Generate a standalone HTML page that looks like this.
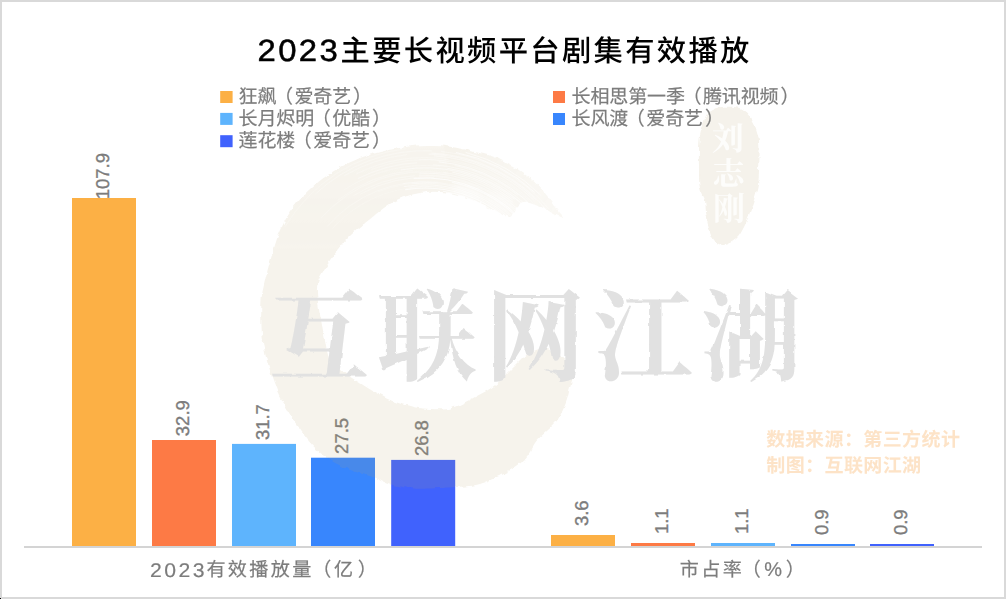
<!DOCTYPE html>
<html lang="zh-CN">
<head>
<meta charset="utf-8">
<title>2023主要长视频平台剧集有效播放</title>
<style>
html,body{margin:0;padding:0;background:#fff;}
body{width:1007px;height:599px;overflow:hidden;font-family:"Liberation Sans","Noto Sans CJK SC",sans-serif;}
svg{display:block;position:absolute;left:0;top:0;}
text{font-family:"Liberation Sans","Noto Sans CJK SC",sans-serif;text-rendering:geometricPrecision;}
.title{font-size:29.3px;font-weight:500;fill:#000;letter-spacing:2.33px;}
.title .d{font-size:30.7px;letter-spacing:2.18px;stroke:#000;stroke-width:0.5px;}
.leg{font-size:19px;fill:#7c7c7c;letter-spacing:-0.12px;stroke:#7c7c7c;stroke-width:0.2px;}
.val{font-size:18.5px;fill:#7c7c7c;letter-spacing:0px;stroke:#7c7c7c;stroke-width:0.35px;}
.axis{font-size:19.1px;fill:#7c7c7c;letter-spacing:2.35px;stroke:#7c7c7c;stroke-width:0.2px;}
.axis .ad{font-size:19.8px;letter-spacing:2.3px;}
.axis .pc{font-size:20px;letter-spacing:0;}
.src{font-size:19px;font-weight:700;fill:#FDE3C7;letter-spacing:0.4px;}
.seal{font-family:"Liberation Serif","Noto Serif CJK SC",serif;font-size:32px;font-weight:700;fill:#ffffff;}
.wm{font-family:"Liberation Serif","Noto Serif CJK SC",serif;font-size:100px;font-weight:700;fill:#e1e1e1;letter-spacing:8px;}
</style>
</head>
<body>
<svg width="1007" height="599" viewBox="0 0 1007 599">
<rect x="0" y="0" width="1007" height="599" fill="#ffffff"/>
<!-- bars -->
<rect x="72.0" y="198.0" width="64" height="348.0" fill="#FCB045"/>
<rect x="152.0" y="440.0" width="64" height="106.0" fill="#FD7A45"/>
<rect x="232.0" y="443.9" width="64" height="102.1" fill="#5EB4FD"/>
<rect x="311.0" y="457.7" width="64" height="88.3" fill="#3886FD"/>
<rect x="391.2" y="459.9" width="64" height="86.1" fill="#4062FD"/>
<rect x="551.0" y="535.0" width="64" height="11.0" fill="#FCB045"/>
<rect x="631.0" y="543.0" width="64" height="3.0" fill="#FD7A45"/>
<rect x="711.0" y="543.0" width="64" height="3.0" fill="#5EB4FD"/>
<rect x="791.0" y="544.0" width="64" height="2.0" fill="#3886FD"/>
<rect x="870.0" y="544.0" width="64" height="2.0" fill="#4062FD"/>
<!-- value labels -->
<text transform="translate(109.0 176.2) rotate(-90)" text-anchor="middle" class="val">107.9</text>
<text transform="translate(189.0 418.2) rotate(-90)" text-anchor="middle" class="val">32.9</text>
<text transform="translate(269.0 422.1) rotate(-90)" text-anchor="middle" class="val">31.7</text>
<text transform="translate(348.0 435.9) rotate(-90)" text-anchor="middle" class="val">27.5</text>
<text transform="translate(428.2 438.1) rotate(-90)" text-anchor="middle" class="val">26.8</text>
<text transform="translate(588.0 513.2) rotate(-90)" text-anchor="middle" class="val">3.6</text>
<text transform="translate(668.0 521.2) rotate(-90)" text-anchor="middle" class="val">1.1</text>
<text transform="translate(748.0 521.2) rotate(-90)" text-anchor="middle" class="val">1.1</text>
<text transform="translate(828.0 522.2) rotate(-90)" text-anchor="middle" class="val">0.9</text>
<text transform="translate(907.0 522.2) rotate(-90)" text-anchor="middle" class="val">0.9</text>
<!-- watermark -->
<defs>
<filter id="rough" x="-5%" y="-5%" width="110%" height="110%">
<feTurbulence type="fractalNoise" baseFrequency="0.14" numOctaves="3" seed="3" result="n"/>
<feDisplacementMap in="SourceGraphic" in2="n" scale="4.5" xChannelSelector="R" yChannelSelector="G"/>
</filter>
<filter id="rough2" x="-5%" y="-5%" width="110%" height="110%">
<feTurbulence type="fractalNoise" baseFrequency="0.11" numOctaves="2" seed="7" result="n"/>
<feDisplacementMap in="SourceGraphic" in2="n" scale="2.6" xChannelSelector="R" yChannelSelector="G"/>
</filter>
<filter id="blur3"><feGaussianBlur stdDeviation="3"/></filter>
</defs>
<linearGradient id="tailfade" gradientUnits="userSpaceOnUse" x1="455" y1="150" x2="560" y2="215">
<stop offset="0" stop-color="#fff"/><stop offset="0.45" stop-color="#bbb"/><stop offset="1" stop-color="#888"/>
</linearGradient>
<linearGradient id="topfade" gradientUnits="userSpaceOnUse" x1="0" y1="140" x2="0" y2="270">
<stop offset="0" stop-color="#d8d8d8"/><stop offset="1" stop-color="#fff"/>
</linearGradient>
<mask id="ensomask" maskUnits="userSpaceOnUse" x="240" y="120" width="360" height="400">
<rect x="240" y="120" width="360" height="400" fill="url(#topfade)"/>
<path d="M440 120 L600 120 L600 260 L520 240 L455 215 Z" fill="url(#tailfade)"/>
<path d="M443.0 191.2 A121.09832135591176 121.09832135591176 0 0 1 518.7 234.3" stroke="#000" stroke-opacity="0.68" stroke-width="1.07" fill="none"/>
<path d="M405.2 189.6 A123.03785999733233 123.03785999733233 0 0 1 512.7 224.7" stroke="#000" stroke-opacity="0.64" stroke-width="1.07" fill="none"/>
<path d="M409.4 187.3 A124.7207203934005 124.7207203934005 0 0 1 514.0 223.6" stroke="#000" stroke-opacity="0.59" stroke-width="0.65" fill="none"/>
<path d="M403.8 186.6 A126.15915295034247 126.15915295034247 0 0 1 508.5 216.5" stroke="#000" stroke-opacity="0.76" stroke-width="0.67" fill="none"/>
<path d="M411.6 183.7 A128.01258036130332 128.01258036130332 0 0 1 524.1 230.0" stroke="#000" stroke-opacity="0.63" stroke-width="0.58" fill="none"/>
<path d="M402.7 183.7 A129.20135938604022 129.20135938604022 0 0 1 526.7 231.4" stroke="#000" stroke-opacity="0.45" stroke-width="0.63" fill="none"/>
<path d="M451.9 182.2 A131.58593688706074 131.58593688706074 0 0 1 514.1 214.2" stroke="#000" stroke-opacity="0.59" stroke-width="1.08" fill="none"/>
<path d="M413.7 178.4 A133.0422643818005 133.0422643818005 0 0 1 531.3 231.0" stroke="#000" stroke-opacity="0.78" stroke-width="0.91" fill="none"/>
<path d="M419.0 176.2 A134.91499334206117 134.91499334206117 0 0 1 518.3 213.6" stroke="#000" stroke-opacity="0.42" stroke-width="0.60" fill="none"/>
<path d="M419.2 175.2 A135.95211177070055 135.95211177070055 0 0 1 525.5 219.4" stroke="#000" stroke-opacity="0.66" stroke-width="0.50" fill="none"/>
<path d="M419.6 173.2 A137.8703174893023 137.8703174893023 0 0 1 532.3 224.4" stroke="#000" stroke-opacity="0.49" stroke-width="0.79" fill="none"/>
<path d="M443.5 172.5 A139.68497470898947 139.68497470898947 0 0 1 512.7 202.3" stroke="#000" stroke-opacity="0.36" stroke-width="1.09" fill="none"/>
<path d="M452.3 172.1 A141.599836017833 141.599836017833 0 0 1 512.7 199.9" stroke="#000" stroke-opacity="0.51" stroke-width="0.97" fill="none"/>
<path d="M400.7 169.9 A143.1628150632455 143.1628150632455 0 0 1 514.6 199.3" stroke="#000" stroke-opacity="0.78" stroke-width="0.61" fill="none"/>
<path d="M447.3 168.2 A144.55721733641042 144.55721733641042 0 0 1 540.3 223.8" stroke="#000" stroke-opacity="0.50" stroke-width="1.07" fill="none"/>
<path d="M433.0 164.8 A146.38383456404634 146.38383456404634 0 0 1 537.8 217.7" stroke="#000" stroke-opacity="0.69" stroke-width="0.56" fill="none"/>
<path d="M454.6 165.5 A148.43778134207307 148.43778134207307 0 0 1 517.6 195.0" stroke="#000" stroke-opacity="0.39" stroke-width="1.07" fill="none"/>
<path d="M438.8 161.9 A149.77259242840339 149.77259242840339 0 0 1 544.1 220.2" stroke="#000" stroke-opacity="0.77" stroke-width="0.70" fill="none"/>
<path d="M419.2 159.5 A151.63611522967858 151.63611522967858 0 0 1 528.5 200.2" stroke="#000" stroke-opacity="0.39" stroke-width="0.61" fill="none"/>
<path d="M444.3 159.2 A153.0190944356986 153.0190944356986 0 0 1 548.7 220.9" stroke="#000" stroke-opacity="0.37" stroke-width="0.60" fill="none"/>
<path d="M434.0 155.9 A155.38935928702742 155.38935928702742 0 0 1 533.9 200.2" stroke="#000" stroke-opacity="0.62" stroke-width="0.64" fill="none"/>
<path d="M428.8 154.1 A156.9610364094389 156.9610364094389 0 0 1 535.5 199.5" stroke="#000" stroke-opacity="0.76" stroke-width="0.53" fill="none"/>
<path d="M431.4 153.1 A158.02617697597543 158.02617697597543 0 0 1 548.5 212.4" stroke="#000" stroke-opacity="0.68" stroke-width="0.58" fill="none"/>
<path d="M441.1 151.4 A160.45983885009753 160.45983885009753 0 0 1 549.0 209.2" stroke="#000" stroke-opacity="0.55" stroke-width="0.56" fill="none"/>
<path d="M456.1 152.5 A161.5193962756322 161.5193962756322 0 0 1 534.6 192.3" stroke="#000" stroke-opacity="0.80" stroke-width="0.77" fill="none"/>
<path d="M465.7 152.4 A163.781802136715 163.781802136715 0 0 1 541.3 195.7" stroke="#000" stroke-opacity="0.68" stroke-width="0.79" fill="none"/>
<path d="M332.4 228.6 A123.9580849002903 123.9580849002903 0 0 1 420.8 187.1" stroke="#000" stroke-opacity="0.31" stroke-width="0.46" fill="none"/>
<path d="M377.9 192.0 A127.9767754008137 127.9767754008137 0 0 1 430.7 183.1" stroke="#000" stroke-opacity="0.30" stroke-width="0.60" fill="none"/>
<path d="M327.3 226.4 A129.17827483254464 129.17827483254464 0 0 1 437.7 182.4" stroke="#000" stroke-opacity="0.31" stroke-width="0.75" fill="none"/>
<path d="M360.2 194.2 A133.57204515926767 133.57204515926767 0 0 1 434.1 177.7" stroke="#000" stroke-opacity="0.43" stroke-width="0.67" fill="none"/>
<path d="M353.4 195.7 A135.72686352669172 135.72686352669172 0 0 1 414.6 175.7" stroke="#000" stroke-opacity="0.43" stroke-width="0.59" fill="none"/>
<path d="M321.0 218.2 A139.3817659127114 139.3817659127114 0 0 1 446.6 173.3" stroke="#000" stroke-opacity="0.37" stroke-width="0.66" fill="none"/>
<path d="M337.9 200.1 A141.02316131404496 141.02316131404496 0 0 1 412.7 170.5" stroke="#000" stroke-opacity="0.34" stroke-width="0.67" fill="none"/>
<path d="M343.3 190.4 A145.6333593353681 145.6333593353681 0 0 1 440.1 166.2" stroke="#000" stroke-opacity="0.39" stroke-width="0.54" fill="none"/>
<path d="M357.9 178.6 A148.47565470542781 148.47565470542781 0 0 1 417.2 162.7" stroke="#000" stroke-opacity="0.46" stroke-width="0.74" fill="none"/>
<path d="M370.9 169.6 A151.37667391374384 151.37667391374384 0 0 1 449.0 161.5" stroke="#000" stroke-opacity="0.36" stroke-width="0.61" fill="none"/>
<path d="M356.5 173.8 A153.33234523532767 153.33234523532767 0 0 1 448.3 159.5" stroke="#000" stroke-opacity="0.41" stroke-width="0.59" fill="none"/>
<path d="M344.4 175.7 A157.43937295184818 157.43937295184818 0 0 1 407.0 154.6" stroke="#000" stroke-opacity="0.37" stroke-width="0.71" fill="none"/>
<path d="M315.3 194.1 A160.3311124583547 160.3311124583547 0 0 1 431.9 150.8" stroke="#000" stroke-opacity="0.39" stroke-width="0.71" fill="none"/>
<path d="M285.1 226.6 A163.44082894915368 163.44082894915368 0 0 1 405.6 148.7" stroke="#000" stroke-opacity="0.40" stroke-width="0.58" fill="none"/>
<ellipse cx="468" cy="193" rx="17" ry="8" transform="rotate(18 468 193)" fill="#000" fill-opacity="0.45" filter="url(#blur3)"/>
<ellipse cx="500" cy="203" rx="16" ry="9" transform="rotate(28 500 203)" fill="#000" fill-opacity="0.35" filter="url(#blur3)"/>
</mask>
<g opacity="0.13">
<g mask="url(#ensomask)"><path d="M540.0 349.0 C542.8 348.4 544.1 348.3 547.0 349.0 C549.9 349.7 554.2 351.2 557.5 353.4 C560.8 355.6 564.4 358.4 567.0 362.0 C569.6 365.6 572.5 370.7 573.0 375.0 C573.5 379.3 571.2 383.2 570.0 388.0 C568.8 392.8 567.6 398.7 565.5 404.0 C563.4 409.3 560.6 415.5 557.5 420.0 C554.4 424.5 550.6 427.4 547.0 431.0 C543.4 434.6 539.2 437.5 536.0 441.5 C532.8 445.5 531.1 451.0 528.0 455.0 C524.9 459.0 522.3 462.0 517.5 465.5 C512.7 469.0 505.2 472.9 499.0 476.0 C492.8 479.1 485.7 482.2 480.0 484.0 C474.3 485.8 470.3 485.9 465.0 486.5 C459.7 487.1 453.8 487.2 448.0 487.5 C442.2 487.8 435.5 488.3 430.0 488.5 C424.5 488.7 420.8 489.0 415.0 488.5 C409.2 488.0 399.7 486.4 395.0 485.5 C390.3 484.6 390.5 484.4 387.0 483.0 C383.5 481.6 379.2 479.2 374.0 477.4 C368.8 475.6 362.0 474.1 356.0 472.0 C350.0 469.9 343.5 467.3 338.0 464.5 C332.5 461.7 327.7 458.7 323.0 455.0 C318.3 451.3 314.0 447.0 310.0 442.5 C306.0 438.0 302.7 433.2 299.0 428.0 C295.3 422.8 291.3 416.5 288.0 411.0 C284.7 405.5 281.5 400.2 279.0 395.0 C276.5 389.8 274.9 385.3 273.0 380.0 C271.1 374.7 269.1 368.8 267.5 363.0 C265.9 357.2 264.5 351.3 263.5 345.0 C262.5 338.7 261.8 332.5 261.5 325.0 C261.2 317.5 261.1 306.7 261.5 300.0 C261.9 293.3 263.0 290.0 264.0 285.0 C265.0 280.0 266.3 275.0 267.6 270.0 C268.9 265.0 270.5 260.0 272.0 255.0 C273.5 250.0 275.1 244.3 276.6 240.0 C278.1 235.7 279.3 232.8 281.0 229.0 C282.7 225.2 284.3 221.3 287.0 217.0 C289.7 212.7 293.2 207.7 297.0 203.0 C300.8 198.3 305.3 193.3 310.0 189.0 C314.7 184.7 320.0 180.6 325.0 177.0 C330.0 173.4 334.2 170.7 340.0 167.5 C345.8 164.3 353.3 160.6 360.0 158.0 C366.7 155.4 373.9 153.6 380.0 152.0 C386.1 150.4 391.1 149.4 396.7 148.4 C402.3 147.4 407.0 146.5 413.4 145.9 C419.8 145.3 428.1 144.7 435.0 145.0 C441.9 145.3 448.6 146.4 455.0 147.5 C461.4 148.6 467.1 150.2 473.5 151.7 C479.9 153.2 487.5 154.5 493.6 156.7 C499.7 158.9 504.9 162.2 510.0 165.0 C515.1 167.8 519.5 170.2 524.0 173.5 C528.5 176.8 532.8 180.4 537.0 184.5 C541.2 188.6 545.7 193.9 549.0 198.0 C552.3 202.1 554.7 205.8 557.0 209.0 C559.3 212.2 563.2 216.0 563.0 217.0 C562.8 218.0 559.0 216.3 556.0 215.0 C553.0 213.7 548.7 210.9 545.0 209.0 C541.3 207.1 537.5 204.7 534.0 203.5 C530.5 202.3 527.0 201.2 524.0 202.0 C521.0 202.8 518.3 205.5 516.0 208.0 C513.7 210.5 513.2 216.4 510.0 217.0 C506.8 217.6 502.0 214.1 497.0 211.8 C492.0 209.6 485.6 206.0 480.0 203.5 C474.4 201.0 469.0 198.6 463.5 196.8 C458.0 195.0 452.4 193.4 446.8 192.6 C441.2 191.8 435.6 191.5 430.0 191.8 C424.4 192.1 418.4 193.2 413.4 194.3 C408.4 195.4 403.9 196.9 400.0 198.5 C396.1 200.1 393.3 201.9 390.0 204.0 C386.7 206.1 384.3 207.7 380.0 211.0 C375.7 214.3 369.0 219.8 364.0 224.0 C359.0 228.2 354.3 231.7 350.0 236.0 C345.7 240.3 341.7 245.3 338.0 250.0 C334.3 254.7 331.0 259.5 328.0 264.0 C325.0 268.5 321.8 273.0 320.0 277.0 C318.2 281.0 317.3 283.8 317.0 288.0 C316.7 292.2 317.3 296.7 318.0 302.0 C318.7 307.3 319.8 313.7 321.0 320.0 C322.2 326.3 323.8 334.2 325.0 340.0 C326.2 345.8 326.7 351.0 328.0 355.0 C329.3 359.0 331.0 361.5 333.0 364.0 C335.0 366.5 336.6 367.5 340.0 370.0 C343.4 372.5 349.0 376.1 353.5 379.0 C358.0 381.9 362.6 384.8 367.0 387.5 C371.4 390.2 375.6 392.7 380.0 395.0 C384.4 397.3 388.8 399.6 393.5 401.4 C398.2 403.1 403.1 404.3 408.0 405.5 C412.9 406.7 418.2 407.9 423.0 408.5 C427.8 409.1 432.7 409.2 437.0 409.3 C441.3 409.4 444.6 409.9 449.0 408.8 C453.4 407.8 458.8 405.1 463.5 403.0 C468.2 400.9 472.6 398.4 477.0 396.0 C481.4 393.6 486.0 391.5 490.0 388.8 C494.0 386.1 497.7 383.0 501.0 380.0 C504.3 377.0 507.3 373.7 510.0 371.0 C512.7 368.3 514.7 366.3 517.0 364.0 C519.3 361.7 521.8 359.2 524.0 357.3 C526.2 355.4 527.3 353.9 530.0 352.5 C532.7 351.1 537.2 349.6 540.0 349.0 Z" fill="#baa36d" filter="url(#rough)"/></g>
<path d="M714.0 109.0 C716.5 107.8 718.5 107.3 722.0 107.0 C725.5 106.7 731.5 106.5 735.0 107.0 C738.5 107.5 740.5 108.3 743.0 110.0 C745.5 111.7 748.0 114.3 750.0 117.0 C752.0 119.7 753.6 122.5 755.0 126.0 C756.4 129.5 757.8 133.7 758.5 138.0 C759.2 142.3 759.4 146.7 759.5 152.0 C759.6 157.3 759.2 164.5 759.0 170.0 C758.8 175.5 758.8 180.0 758.0 185.0 C757.2 190.0 755.5 195.0 754.0 200.0 C752.5 205.0 750.7 210.5 749.0 215.0 C747.3 219.5 746.2 223.0 744.0 227.0 C741.8 231.0 739.5 236.0 736.0 239.0 C732.5 242.0 726.7 244.8 723.0 245.0 C719.3 245.2 716.3 242.8 714.0 240.0 C711.7 237.2 710.3 232.7 709.0 228.0 C707.7 223.3 706.7 216.7 706.0 212.0 C705.3 207.3 706.0 204.0 705.0 200.0 C704.0 196.0 701.0 193.0 700.0 188.0 C699.0 183.0 699.1 178.0 699.0 170.0 C698.9 162.0 698.8 147.5 699.5 140.0 C700.2 132.5 701.8 129.3 703.0 125.0 C704.2 120.7 705.2 116.7 707.0 114.0 C708.8 111.3 711.5 110.2 714.0 109.0 Z" fill="#b39a62" filter="url(#rough)"/>
</g>
<g fill="#ffffff" opacity="0.8">
<text class="seal" x="728" y="150" text-anchor="middle">刘</text>
<text class="seal" x="728.5" y="185.3" text-anchor="middle">志</text>
<text class="seal" x="729" y="220.4" text-anchor="middle">刚</text>
</g>
<text class="wm" x="269" y="373" filter="url(#rough2)">互联网江湖</text>

<!-- axis line -->
<rect x="24" y="546" width="958" height="2" fill="#d4d4d4"/>
<!-- outer frame -->
<rect x="1" y="1" width="1004" height="597" fill="none" stroke="#d9d9d9" stroke-width="2"/>
<rect x="0" y="598" width="1" height="1" fill="#000"/>
<!-- title -->
<text class="title" transform="translate(257.6 61) scale(1.07 1)"><tspan class="d">2023</tspan></text>
<text class="title" x="340.6" y="60.5">主要长视频平台剧集有效播放</text>
<!-- legend -->
<rect x="220.2" y="91" width="12.4" height="12" fill="#FCB045"/>
<rect x="220.2" y="112.9" width="12.4" height="12" fill="#5EB4FD"/>
<rect x="220.2" y="135.2" width="12.4" height="12" fill="#4062FD"/>
<rect x="553" y="91" width="12" height="12" fill="#FD7A45"/>
<rect x="553" y="113" width="12" height="12" fill="#3886FD"/>
<text x="238.5" y="103" class="leg">狂飙<tspan dx="-2.3">（</tspan><tspan dx="1.6">爱</tspan>奇艺<tspan dx="2.0">）</tspan></text>
<text x="238.5" y="125.2" class="leg">长月烬明<tspan dx="-2.3">（</tspan><tspan dx="1.6">优</tspan>酷<tspan dx="2.0">）</tspan></text>
<text x="238.5" y="147.4" class="leg">莲花楼<tspan dx="-2.3">（</tspan><tspan dx="1.6">爱</tspan>奇艺<tspan dx="2.0">）</tspan></text>
<text x="571.5" y="103" class="leg">长相思第一季<tspan dx="-2.3">（</tspan><tspan dx="1.6">腾</tspan>讯视频<tspan dx="2.0">）</tspan></text>
<text x="571.5" y="125.2" class="leg">长风渡<tspan dx="-2.3">（</tspan><tspan dx="1.6">爱</tspan>奇艺<tspan dx="2.0">）</tspan></text>
<!-- axis labels -->
<text class="axis" transform="translate(150.1 576.5) scale(1.07 1)"><tspan class="ad">2023</tspan></text>
<text y="576" class="axis"><tspan x="206.4" y="576">有效播放量</tspan><tspan x="312.2">（</tspan><tspan x="334">亿</tspan><tspan x="357.7">）</tspan></text>
<text y="576" class="axis"><tspan x="679.8">市占率</tspan><tspan x="741.8">（</tspan><tspan class="pc" x="764.2" y="576.3">%</tspan><tspan x="785.8" y="576">）</tspan></text>
<!-- source -->
<text x="766.3" y="445.8" class="src">数据来源：第三方统计</text>
<text x="766.3" y="471.8" class="src">制图：互联网江湖</text>
</svg>
</body>
</html>
